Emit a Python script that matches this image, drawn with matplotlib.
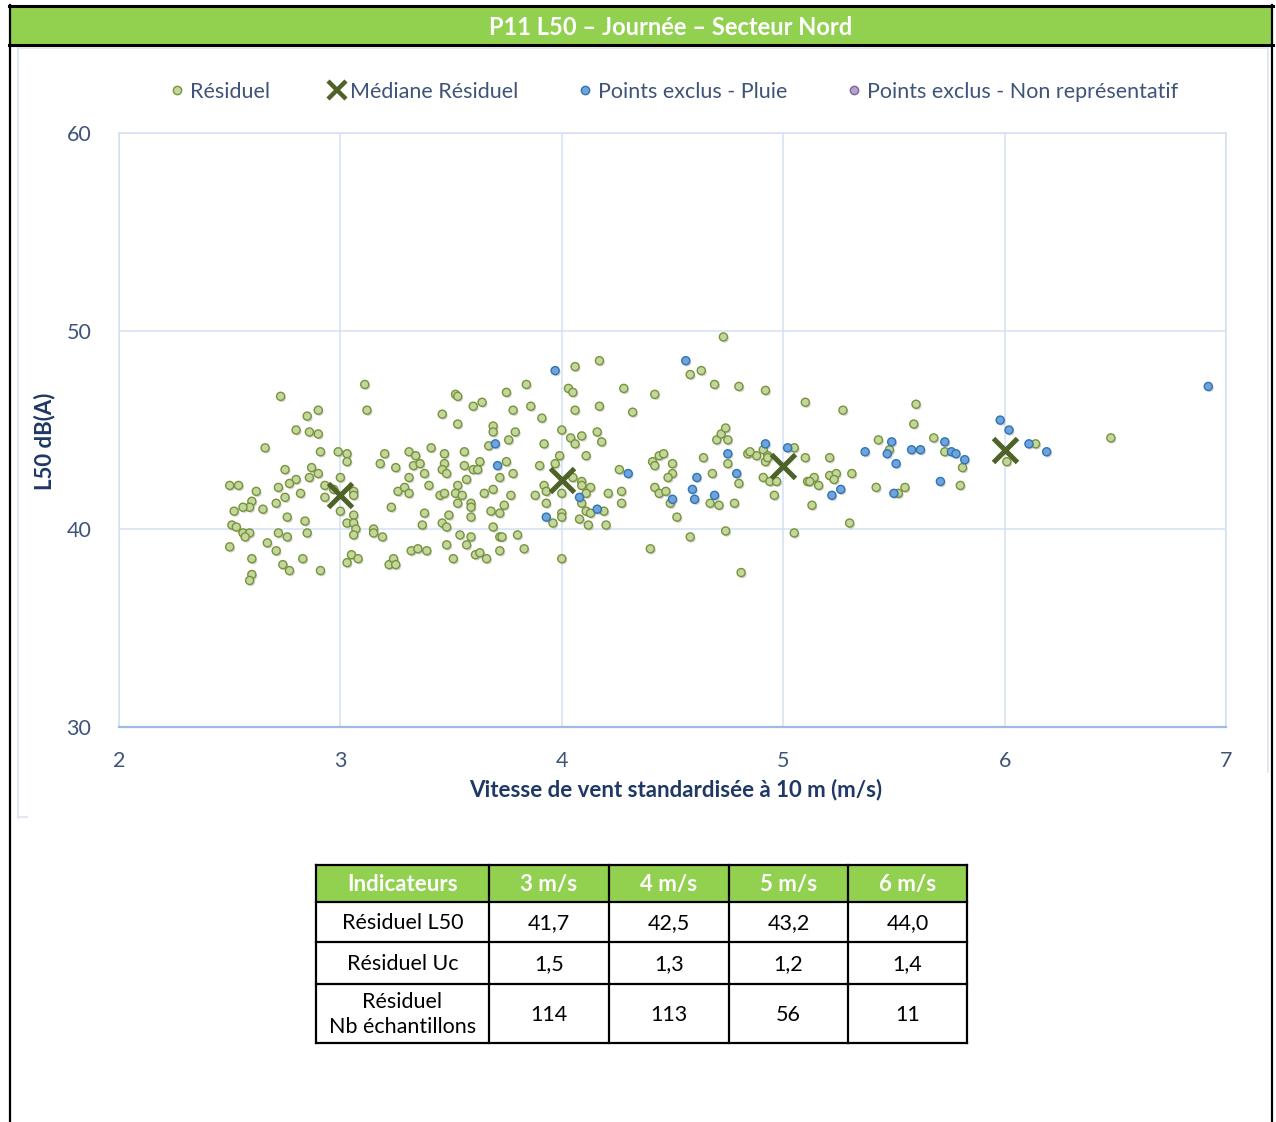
import matplotlib
matplotlib.use("Agg")
import matplotlib.pyplot as plt
import matplotlib.patheffects as pe
from matplotlib.lines import Line2D
from matplotlib.patches import Rectangle

plt.rcParams['font.family'] = ['Lato', 'DejaVu Sans']

# --- data ---
title = "P11 L50 – Journée – Secteur Nord"

resid_x = [2.73, 2.66, 2.85, 2.90, 2.80, 2.86, 2.90, 2.91, 2.99, 3.03, 3.03, 3.11, 3.12, 2.75, 2.87,
           2.90, 2.86, 2.80, 2.77, 2.72, 2.62, 2.50, 2.54, 2.82, 2.75, 2.71, 2.60, 2.59, 2.56, 2.52,
           2.65, 2.93, 2.93, 3.00, 2.97, 3.06, 3.06, 3.00, 3.06, 3.03, 3.06, 3.07, 3.06, 2.76, 2.84,
           2.85, 2.72, 2.76, 2.51, 2.53, 2.56, 2.59, 2.57, 2.50, 2.67, 2.71, 2.60, 2.74, 2.77, 2.83,
           2.91, 2.60, 2.59, 3.03, 3.05, 3.08,
           3.18, 3.20, 3.25, 3.26, 3.29, 3.31, 3.23, 3.31, 3.34, 3.33, 3.36, 3.31, 3.38, 3.41, 3.40,
           3.47, 3.47, 3.46, 3.48, 3.46, 3.52, 3.53, 3.53, 3.60, 3.64, 3.56, 3.56, 3.60, 3.62, 3.63,
           3.57, 3.53, 3.45, 3.47, 3.52, 3.55, 3.53, 3.59, 3.59, 3.59, 3.49, 3.38, 3.37, 3.46, 3.48,
           3.65, 3.69, 3.68, 3.72, 3.74, 3.77, 3.69, 3.72, 3.73, 3.80, 3.83, 3.72, 3.54, 3.59, 3.57,
           3.48, 3.51, 3.61, 3.63, 3.66, 3.32, 3.35, 3.39, 3.15, 3.15, 3.19, 3.22, 3.24, 3.25, 3.69,
           3.69, 3.67, 3.75, 3.84, 3.78, 3.86, 3.91, 3.79, 3.76, 3.92, 3.75, 3.72, 3.78, 3.90, 4.00,
           3.99, 3.97, 3.92, 3.93, 3.88, 3.93, 4.00, 4.00, 4.00, 3.96, 4.00, 4.03,
           4.73, 4.17, 4.06, 4.58, 4.63, 4.69, 4.80, 4.92, 4.05, 4.28, 4.42, 4.06, 4.17, 4.32, 4.04,
           4.09, 4.06, 4.16, 4.18, 4.11, 4.05, 4.09, 4.09, 4.13, 4.11, 4.21, 4.09, 4.11, 4.13, 4.19,
           4.08, 4.12, 4.20, 4.26, 4.27, 4.27, 4.42, 4.44, 4.47, 4.49, 4.52, 4.41, 4.42, 4.44, 4.46,
           4.50, 4.50, 4.48, 4.64, 4.68, 4.80, 4.67, 4.71, 4.78, 4.75, 4.70, 4.72, 4.74, 4.75, 4.40,
           4.58, 4.74, 4.81, 4.84, 4.88, 4.91, 4.92, 4.93, 4.91, 4.94, 4.97, 4.96, 5.05, 5.10, 5.10,
           5.11, 5.14, 5.16, 5.13, 5.05, 5.21, 5.21, 5.24, 5.23, 5.27, 5.31, 5.30, 5.42, 5.43, 5.48,
           5.52, 5.55, 5.59, 5.60, 5.68, 5.73, 5.81, 5.80, 6.01, 6.14, 6.48, 4.85, 4.93, 5.12]
resid_y = [46.7, 44.1, 45.7, 46.0, 45.0, 44.9, 44.8, 43.9, 43.9, 43.8, 43.4, 47.3, 46.0, 43.0, 43.1,
           42.8, 42.6, 42.5, 42.3, 42.1, 41.9, 42.2, 42.2, 41.8, 41.6, 41.3, 41.4, 41.1, 41.1, 40.9,
           41.0, 42.2, 41.6, 42.6, 42.0, 41.9, 41.7, 40.9, 40.7, 40.3, 40.3, 40.0, 39.7, 40.6, 40.4,
           39.8, 39.8, 39.6, 40.2, 40.1, 39.8, 39.8, 39.6, 39.1, 39.3, 38.9, 38.5, 38.2, 37.9, 38.5,
           37.9, 37.7, 37.4, 38.3, 38.7, 38.5,
           43.3, 43.8, 43.1, 41.9, 42.1, 41.8, 41.1, 43.9, 43.7, 43.2, 43.3, 42.6, 42.8, 44.1, 42.2,
           43.8, 43.3, 43.0, 42.8, 45.8, 46.8, 46.7, 45.3, 46.2, 46.4, 43.9, 43.2, 43.0, 43.0, 43.4,
           42.5, 42.2, 41.7, 41.8, 41.8, 41.7, 41.3, 41.3, 41.1, 40.6, 40.7, 40.8, 40.2, 40.3, 40.1,
           41.8, 42.0, 40.9, 40.8, 41.2, 41.7, 40.1, 39.6, 39.6, 39.7, 39.0, 38.9, 39.7, 39.6, 39.2,
           39.2, 38.5, 38.7, 38.8, 38.5, 38.9, 39.0, 38.9, 40.0, 39.8, 39.6, 38.2, 38.5, 38.2, 45.2,
           44.9, 44.2, 46.9, 47.3, 46.0, 46.2, 45.6, 44.9, 44.5, 44.3, 43.4, 42.6, 42.8, 43.2, 45.0,
           43.7, 43.3, 42.2, 41.9, 41.7, 41.3, 41.8, 40.8, 40.6, 40.3, 38.5, 47.1,
           49.7, 48.5, 48.2, 47.8, 48.0, 47.3, 47.2, 47.0, 46.9, 47.1, 46.8, 46.0, 46.2, 45.9, 44.6,
           44.7, 44.3, 44.9, 44.4, 43.7, 42.6, 42.4, 42.2, 42.1, 41.8, 41.8, 41.3, 40.9, 40.8, 40.9,
           40.5, 40.2, 40.2, 43.0, 41.9, 41.3, 42.1, 41.8, 41.9, 41.3, 40.6, 43.4, 43.2, 43.7, 43.8,
           43.3, 42.8, 42.6, 43.6, 42.8, 42.3, 41.3, 41.2, 41.3, 43.3, 44.5, 44.8, 45.1, 44.5, 39.0,
           39.6, 39.9, 37.8, 43.8, 43.7, 44.0, 43.4, 43.7, 42.6, 42.4, 42.4, 41.7, 44.1, 46.4, 43.6,
           42.4, 42.6, 42.2, 41.2, 39.8, 43.6, 42.7, 42.8, 42.5, 46.0, 42.8, 40.3, 42.1, 44.5, 44.0,
           41.8, 42.1, 45.3, 46.3, 44.6, 43.9, 43.1, 42.2, 43.4, 44.3, 44.6, 43.9, 43.6, 42.4]

pluie_x = [3.70, 3.71, 3.93, 3.97, 4.56, 4.30, 4.08, 4.16, 4.61, 4.59, 4.60, 4.50, 4.69, 4.75, 4.79,
           4.92, 5.02, 5.22, 5.26, 5.37, 5.47, 5.49, 5.51, 5.50, 5.58, 5.62, 5.71, 5.73, 5.76, 5.78,
           5.82, 5.98, 6.02, 6.11, 6.19, 6.92]
pluie_y = [44.3, 43.2, 40.6, 48.0, 48.5, 42.8, 41.6, 41.0, 42.6, 42.0, 41.5, 41.5, 41.7, 43.8, 42.8,
           44.3, 44.1, 41.7, 42.0, 43.9, 43.8, 44.4, 43.3, 41.8, 44.0, 44.0, 42.4, 44.4, 43.9, 43.8,
           43.5, 45.5, 45.0, 44.3, 43.9, 47.2]

nonrep_x = []
nonrep_y = []

median_x = [3, 4, 5, 6]
median_y = [41.7, 42.5, 43.2, 44.0]

table_header = ["Indicateurs", "3 m/s", "4 m/s", "5 m/s", "6 m/s"]
table_rows = [
    ["Résiduel L50", "41,7", "42,5", "43,2", "44,0"],
    ["Résiduel Uc", "1,5", "1,3", "1,2", "1,4"],
    ["Résiduel\nNb échantillons", "114", "113", "56", "11"],
]

# --- colours ---
green_face, green_edge = "#c3d69b", "#77933c"
blue_face, blue_edge = "#6fa3da", "#2e75b6"
purple_face, purple_edge = "#b3a2c7", "#8064a2"
median_col = "#4f6228"
tick_col = "#3f5478"
label_col = "#1f3864"
grid_col = "#d3e0f2"
bar_green = "#92d050"

W, H = 1276, 1122
fig = plt.figure(figsize=(W / 100, H / 100), dpi=100)

# decoration layer in pixel coordinates
deco = fig.add_axes([0, 0, 1, 1], zorder=0)
deco.set_xlim(0, W)
deco.set_ylim(H, 0)
deco.axis("off")

deco.add_patch(Rectangle((10, 7), 1262, 37, facecolor=bar_green, edgecolor="none"))
deco.plot([9, 1273], [6, 6], color="black", lw=2.2)
deco.plot([9, 1273], [44.5, 44.5], color="black", lw=2.2)
deco.plot([9.5, 9.5], [5, H], color="black", lw=1.6)
deco.plot([1272, 1272], [5, H], color="black", lw=1.6)
deco.text(671, 27, title, color="white", fontsize=17, fontweight="bold",
          ha="center", va="center")

# chart area frame
frame_col = "#dbe4f0"
deco.plot([17.5, 17.5], [48, 818], color=frame_col, lw=1.2)
deco.plot([17.5, 1268], [48, 48], color=frame_col, lw=1.2)
deco.plot([1268, 1268], [48, 772], color=frame_col, lw=1.2)
deco.plot([17.5, 27], [817, 817], color=frame_col, lw=1.2)

# --- scatter plot ---
ax = fig.add_axes([119 / W, 1 - 727 / H, (1226 - 119) / W, (727 - 133) / H], zorder=2)
ax.patch.set_alpha(0)

shadow = [pe.SimplePatchShadow(offset=(1.0, -1.2), shadow_rgbFace="#808080", alpha=0.35), pe.Normal()]

ax.scatter(resid_x, resid_y, s=34, facecolor=green_face, edgecolor=green_edge,
           linewidths=1.0, zorder=3, path_effects=shadow)
ax.scatter(pluie_x, pluie_y, s=34, facecolor=blue_face, edgecolor=blue_edge,
           linewidths=1.0, zorder=4, path_effects=shadow)
ax.scatter(nonrep_x, nonrep_y, s=34, facecolor=purple_face, edgecolor=purple_edge,
           linewidths=1.0, zorder=4)
ax.plot(median_x, median_y, linestyle="none", marker="x", ms=17, mew=3.6,
        color=median_col, zorder=5)

ax.set_xlim(2, 7)
ax.set_ylim(30, 60)
ax.set_xticks([2, 3, 4, 5, 6, 7])
ax.set_yticks([30, 40, 50, 60])
ax.grid(True, color=grid_col, lw=1.1, zorder=0)
ax.set_axisbelow(True)
for side in ["top", "right", "left"]:
    ax.spines[side].set_color(grid_col)
    ax.spines[side].set_linewidth(1.1)
ax.spines["bottom"].set_color("#9dbbe3")
ax.spines["bottom"].set_linewidth(1.6)
ax.tick_params(length=0, labelsize=15.5, labelcolor=tick_col)
ax.tick_params(axis="y", pad=20)
ax.tick_params(axis="x", pad=17)

fig.text(45 / W, 1 - 441 / H, "L50 dB(A)", rotation=90, color=label_col,
         fontsize=16, fontweight="bold", ha="center", va="center")
fig.text(676 / W, 1 - 790 / H, "Vitesse de vent standardisée à 10 m (m/s)",
         color=label_col, fontsize=16, fontweight="bold", ha="center", va="center")

# legend
handles = [
    Line2D([], [], linestyle="none", marker="o", ms=6, mfc=green_face, mec=green_edge, mew=1),
    Line2D([], [], linestyle="none", marker="x", ms=13, mew=3.2, color=median_col),
    Line2D([], [], linestyle="none", marker="o", ms=6, mfc=blue_face, mec=blue_edge, mew=1),
    Line2D([], [], linestyle="none", marker="o", ms=6, mfc=purple_face, mec=purple_edge, mew=1),
]
labels = ["Résiduel", "Médiane Résiduel", "Points exclus - Pluie",
          "Points exclus - Non représentatif"]
leg = fig.legend(handles, labels, ncol=4, loc="center", bbox_to_anchor=(674 / W, 1 - 92 / H),
                 frameon=False, fontsize=15.5, handlelength=0.7, handletextpad=0.25,
                 columnspacing=2.75, borderaxespad=0)
for t in leg.get_texts():
    t.set_color(tick_col)

# --- table ---
col_edges = [316, 489, 609, 729, 848, 967]
row_edges = [865, 902, 942, 984, 1043]
deco.add_patch(Rectangle((col_edges[0], row_edges[0]), col_edges[-1] - col_edges[0],
                         row_edges[1] - row_edges[0], facecolor=bar_green, edgecolor="none"))
for x in col_edges:
    deco.plot([x, x], [row_edges[0], row_edges[-1]], color="black", lw=1.6)
for y in row_edges:
    deco.plot([col_edges[0], col_edges[-1]], [y, y], color="black", lw=1.6)

for j, txt in enumerate(table_header):
    cx = (col_edges[j] + col_edges[j + 1]) / 2
    cy = (row_edges[0] + row_edges[1]) / 2 + 1
    deco.text(cx, cy, txt, color="white", fontsize=16, fontweight="bold",
              ha="center", va="center")
for i, row in enumerate(table_rows):
    cy = (row_edges[i + 1] + row_edges[i + 2]) / 2 + 1
    for j, txt in enumerate(row):
        cx = (col_edges[j] + col_edges[j + 1]) / 2
        deco.text(cx, cy, txt, color="black", fontsize=15.5, ha="center", va="center",
                  linespacing=1.35)

fig.savefig("out.png", dpi=100)
